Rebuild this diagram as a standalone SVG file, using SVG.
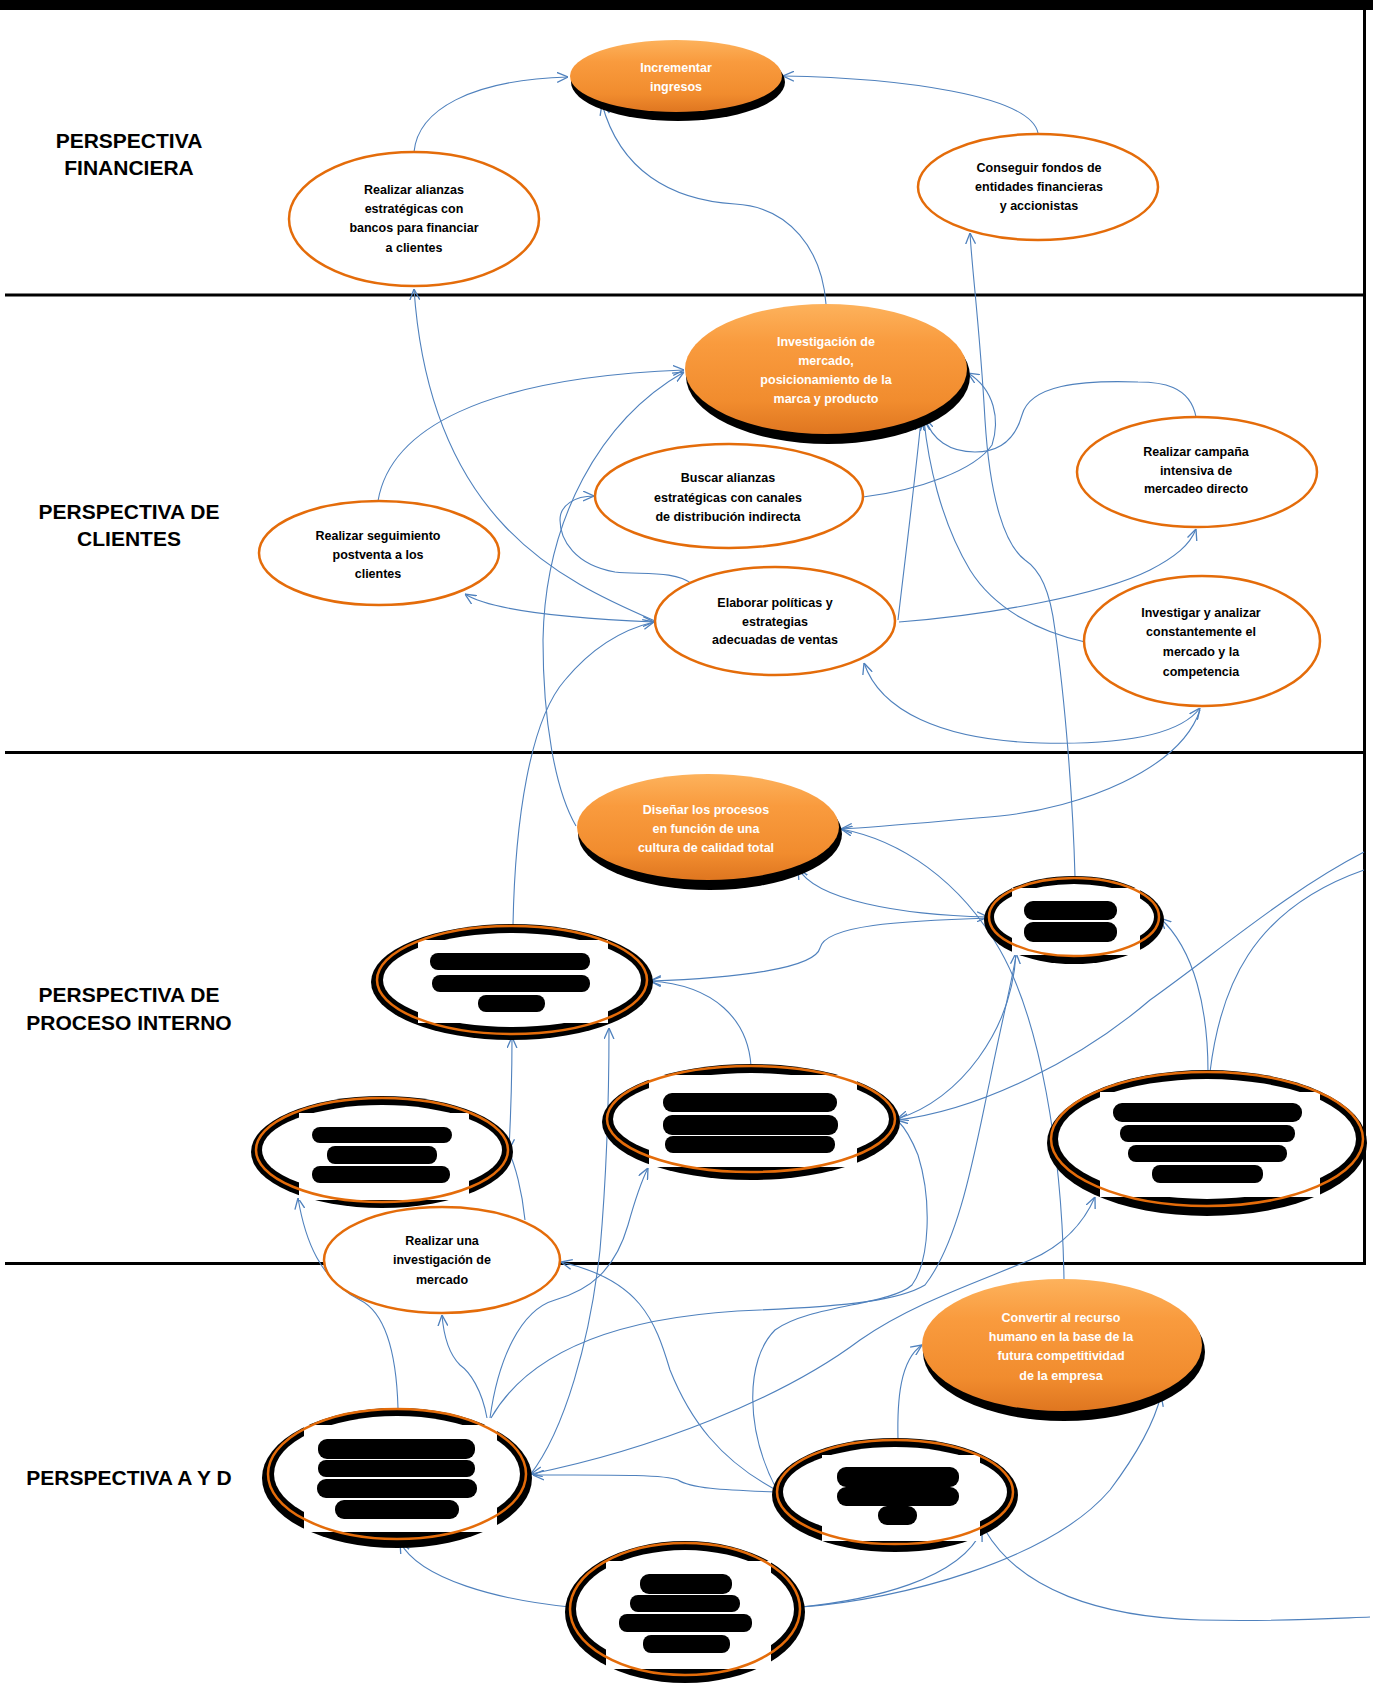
<svg xmlns="http://www.w3.org/2000/svg" width="1373" height="1687" viewBox="0 0 1373 1687">
<defs>
  <style>
    .lab{font-family:"Liberation Sans",Arial,sans-serif;font-weight:bold;font-size:21px;text-anchor:middle;fill:#000}
    .t{font-family:"Liberation Sans",Arial,sans-serif;font-weight:bold;font-size:12.5px;text-anchor:middle;fill:#000}
    .tw{fill:#fff}
    .ring{fill:#fff;stroke:#E46C0A;stroke-width:2.5}
    .oline{fill:none;stroke:#E46C0A;stroke-width:2.5}
    .shadow{fill:#000}
    .white{fill:#fff}
    .blob{fill:#000}
    .conn path{fill:none;stroke:#4F81BD;stroke-width:1.1}
    .rule{fill:#000}
  </style>
  <linearGradient id="og" x1="0" y1="0" x2="0" y2="1">
    <stop offset="0" stop-color="#FDB25C"/>
    <stop offset="0.3" stop-color="#F99B3E"/>
    <stop offset="0.75" stop-color="#F18C2E"/>
    <stop offset="1" stop-color="#DF7620"/>
  </linearGradient>
  <marker id="a" viewBox="0 0 10 10" refX="10" refY="5" markerWidth="11" markerHeight="11" markerUnits="userSpaceOnUse" orient="auto-start-reverse">
    <path d="M0,0.5 L10,5 L0,9.5" fill="none" stroke="#4F81BD" stroke-width="1.2"/>
  </marker>
</defs>

<rect width="1373" height="1687" fill="#fff"/>

<!-- frame and band separators -->
<g id="frame">
  <rect class="rule" x="0" y="0" width="1373" height="10"/>
  <rect class="rule" x="1363" y="0" width="3" height="1265"/>
  <rect class="rule" x="5" y="293.5" width="1361" height="3"/>
  <rect class="rule" x="5" y="751" width="1361" height="3"/>
  <rect class="rule" x="5" y="1262" width="1361" height="3"/>
</g>

<!-- perspective labels -->
<g id="labels">
  <text class="lab" x="129" y="148">PERSPECTIVA</text>
  <text class="lab" x="129" y="175">FINANCIERA</text>
  <text class="lab" x="129" y="519">PERSPECTIVA DE</text>
  <text class="lab" x="129" y="546">CLIENTES</text>
  <text class="lab" x="129" y="1002">PERSPECTIVA DE</text>
  <text class="lab" x="129" y="1030">PROCESO INTERNO</text>
  <text class="lab" x="129" y="1485">PERSPECTIVA A Y D</text>
</g>

<!-- connectors -->
<g id="connectors" class="conn">
  <path marker-end="url(#a)" d="M414,152 C418,110 470,80 568,77"/>
  <path marker-end="url(#a)" d="M1038,133 C1030,95 900,78 783,76"/>
  <path marker-end="url(#a)" d="M826,304 C822,250 790,207 735,204 C670,200 620,170 602,104"/>
  <path marker-end="url(#a)" d="M655,621 C560,580 430,520 414,289"/>
  <path marker-end="url(#a)" d="M1075,877 C1073,800 1065,700 1055,630 C1050,590 1040,570 1025,560 C1005,545 990,500 985,420 C980,330 972,270 970,233"/>
  <path marker-end="url(#a)" d="M378,501 C390,430 480,378 684,370"/>
  <path marker-start="url(#a)" marker-end="url(#a)" d="M465,594 C490,610 560,618 654,622"/>
  <path marker-end="url(#a)" d="M692,584 C675,570 640,575 615,572 C575,565 560,540 560,520 C560,505 575,496 594,496"/>
  <path marker-end="url(#a)" d="M863,497 C920,490 975,470 992,445 C1000,420 995,390 968,373"/>
  <path marker-end="url(#a)" d="M576,826 C555,790 543,720 543,640 C545,520 600,420 684,372"/>
  <path marker-end="url(#a)" d="M1196,417 C1190,385 1160,382 1138,382 C1080,380 1030,385 1022,415 C1015,440 1000,452 975,452 C950,452 932,440 925,418"/>
  <path marker-end="url(#a)" d="M1085,642 C1040,632 995,610 970,570 C940,520 928,460 924,420"/>
  <path marker-end="url(#a)" d="M898,620 C905,560 915,480 921,420"/>
  <path marker-end="url(#a)" d="M899,622 C990,615 1100,595 1150,570 C1175,557 1190,545 1196,529"/>
  <path marker-start="url(#a)" marker-end="url(#a)" d="M864,663 C880,710 940,740 1040,743 C1120,745 1180,735 1200,708"/>
  <path marker-end="url(#a)" d="M1200,710 C1180,770 1080,808 1000,816 C930,822 880,827 841,829"/>
  <path marker-end="url(#a)" d="M1064,1280 C1062,1150 1040,1020 1000,950 C960,880 900,840 841,829"/>
  <path marker-start="url(#a)" marker-end="url(#a)" d="M798,868 C815,900 900,915 988,917"/>
  <path marker-end="url(#a)" d="M990,918 C900,921 825,925 820,948 C815,968 740,978 650,981"/>
  <path marker-end="url(#a)" d="M751,1066 C748,1020 715,985 650,981"/>
  <path marker-start="url(#a)" marker-end="url(#a)" d="M1016,953 C1012,1030 960,1100 897,1119"/>
  <path marker-end="url(#a)" d="M1364,852 C1290,890 1220,950 1150,1000 C1080,1060 980,1110 897,1120"/>
  <path marker-end="url(#a)" d="M1208,1072 C1208,1010 1195,950 1160,918"/>
  <path d="M1210,1072 C1220,990 1250,910 1364,870"/>
  <path marker-end="url(#a)" d="M513,925 C515,820 530,720 565,680 C590,650 620,630 654,622"/>
  <path marker-start="url(#a)" marker-end="url(#a)" d="M509,1150 C511,1110 512,1070 512,1037"/>
  <path d="M525,1220 C522,1190 515,1165 509,1152"/>
  <path marker-end="url(#a)" d="M530,1475 C565,1430 590,1340 600,1250 C607,1170 609,1100 609,1028"/>
  <path marker-end="url(#a)" d="M398,1408 C396,1340 380,1310 360,1300 C320,1280 305,1240 298,1198"/>
  <path marker-end="url(#a)" d="M487,1418 C482,1390 470,1372 460,1365 C450,1355 444,1340 442,1315"/>
  <path marker-end="url(#a)" d="M490,1418 C498,1360 520,1310 555,1300 C590,1290 615,1270 628,1225 C635,1200 642,1180 648,1168"/>
  <path d="M491,1418 C530,1350 620,1315 760,1310 C850,1306 900,1300 925,1285 C960,1240 975,1150 990,1080 C1000,1030 1010,990 1016,956"/>
  <path marker-start="url(#a)" marker-end="url(#a)" d="M531,1474 C650,1450 780,1400 860,1340 C910,1305 970,1285 1030,1260 C1065,1245 1085,1220 1095,1197"/>
  <path d="M777,1490 C745,1430 745,1360 775,1330 C810,1305 890,1305 912,1285 C930,1260 932,1200 918,1155 C912,1140 905,1128 898,1121"/>
  <path marker-end="url(#a)" d="M777,1492 C720,1490 690,1488 678,1480 C665,1474 600,1475 533,1475"/>
  <path marker-end="url(#a)" d="M776,1490 C720,1460 690,1420 670,1370 C655,1320 640,1280 561,1262"/>
  <path marker-end="url(#a)" d="M898,1440 C897,1400 900,1360 922,1345"/>
  <path marker-end="url(#a)" d="M801,1607 C870,1600 960,1580 982,1530"/>
  <path d="M985,1530 C1020,1590 1100,1617 1200,1620 C1280,1622 1340,1618 1370,1617"/>
  <path marker-end="url(#a)" d="M801,1607 C900,1600 1050,1560 1110,1490 C1140,1450 1155,1420 1161,1395"/>
  <path marker-end="url(#a)" d="M570,1607 C500,1600 420,1580 400,1542"/>
</g>

<!-- financial perspective -->
<g id="n-incrementar">
  <ellipse class="shadow" cx="678" cy="82" rx="107" ry="39"/>
  <ellipse cx="676" cy="76" rx="106" ry="36" fill="url(#og)"/>
  <text class="t tw" x="676" y="72">Incrementar</text>
  <text class="t tw" x="676" y="91">ingresos</text>
</g>
<g id="n-alianzas-bancos">
  <ellipse class="ring" cx="414" cy="219" rx="125" ry="67"/>
  <text class="t" x="414" y="194">Realizar  alianzas</text>
  <text class="t" x="414" y="213">estratégicas con</text>
  <text class="t" x="414" y="232">bancos para financiar</text>
  <text class="t" x="414" y="252">a clientes</text>
</g>
<g id="n-fondos">
  <ellipse class="ring" cx="1038" cy="187" rx="120" ry="53"/>
  <text class="t" x="1039" y="172">Conseguir fondos de</text>
  <text class="t" x="1039" y="191">entidades financieras</text>
  <text class="t" x="1039" y="210">y accionistas</text>
</g>

<!-- customer perspective -->
<g id="n-investigacion">
  <ellipse class="shadow" cx="828" cy="376" rx="142" ry="68"/>
  <ellipse cx="826" cy="369" rx="141" ry="65" fill="url(#og)"/>
  <text class="t tw" x="826" y="346">Investigación  de</text>
  <text class="t tw" x="826" y="365">mercado,</text>
  <text class="t tw" x="826" y="384">posicionamiento  de la</text>
  <text class="t tw" x="826" y="403">marca y producto</text>
</g>
<g id="n-canales">
  <ellipse class="ring" cx="729" cy="496" rx="134" ry="52"/>
  <text class="t" x="728" y="482">Buscar  alianzas</text>
  <text class="t" x="728" y="502">estratégicas con canales</text>
  <text class="t" x="728" y="521">de distribución  indirecta</text>
</g>
<g id="n-campana">
  <ellipse class="ring" cx="1197" cy="472" rx="120" ry="55"/>
  <text class="t" x="1196" y="456">Realizar  campaña</text>
  <text class="t" x="1196" y="475">intensiva de</text>
  <text class="t" x="1196" y="493">mercadeo directo</text>
</g>
<g id="n-postventa">
  <ellipse class="ring" cx="379" cy="553" rx="120" ry="52"/>
  <text class="t" x="378" y="540">Realizar  seguimiento</text>
  <text class="t" x="378" y="559">postventa a los</text>
  <text class="t" x="378" y="578">clientes</text>
</g>
<g id="n-ventas">
  <ellipse class="ring" cx="775" cy="621" rx="120" ry="54"/>
  <text class="t" x="775" y="607">Elaborar  políticas y</text>
  <text class="t" x="775" y="626">estrategias</text>
  <text class="t" x="775" y="644">adecuadas  de ventas</text>
</g>
<g id="n-competencia">
  <ellipse class="ring" cx="1202" cy="641" rx="118" ry="65"/>
  <text class="t" x="1201" y="617">Investigar  y analizar</text>
  <text class="t" x="1201" y="636">constantemente el</text>
  <text class="t" x="1201" y="656">mercado y la</text>
  <text class="t" x="1201" y="676">competencia</text>
</g>

<!-- internal process perspective -->
<g id="n-calidad">
  <ellipse class="shadow" cx="710" cy="834" rx="132" ry="56"/>
  <ellipse cx="708" cy="827" rx="131" ry="53" fill="url(#og)"/>
  <text class="t tw" x="706" y="814">Diseñar los procesos</text>
  <text class="t tw" x="706" y="833">en función  de una</text>
  <text class="t tw" x="706" y="852">cultura de calidad  total</text>
</g>
<g id="n-p1">
  <ellipse class="shadow" cx="1074" cy="920" rx="90" ry="44"/>
  <ellipse class="white" cx="1074" cy="917" rx="80" ry="33"/>
  <rect class="white" x="1012" y="888" width="128" height="67"/>
  <ellipse class="oline" cx="1074" cy="917" rx="85" ry="39"/>
  <rect class="blob" x="1024" y="901" width="93" height="19" rx="9"/>
  <rect class="blob" x="1024" y="922" width="93" height="20" rx="9"/>
</g>
<g id="n-p2">
  <ellipse class="shadow" cx="512" cy="982" rx="141" ry="58"/>
  <ellipse class="white" cx="512" cy="980" rx="129" ry="47"/>
  <rect class="white" x="418" y="940" width="190" height="83"/>
  <ellipse class="oline" cx="512" cy="980" rx="135" ry="54"/>
  <rect class="blob" x="430" y="953" width="160" height="17" rx="8"/>
  <rect class="blob" x="432" y="975" width="158" height="17" rx="8"/>
  <rect class="blob" x="478" y="995" width="67" height="17" rx="8"/>
</g>
<g id="n-p3">
  <ellipse class="shadow" cx="751" cy="1122" rx="149" ry="58"/>
  <ellipse class="white" cx="751" cy="1119" rx="138" ry="46"/>
  <rect class="white" x="649" y="1075" width="208" height="92"/>
  <ellipse class="oline" cx="751" cy="1119" rx="144" ry="53"/>
  <rect class="blob" x="663" y="1093" width="174" height="19" rx="9"/>
  <rect class="blob" x="663" y="1115" width="175" height="20" rx="9"/>
  <rect class="blob" x="665" y="1136" width="170" height="17" rx="8"/>
</g>
<g id="n-p4">
  <ellipse class="shadow" cx="382" cy="1152" rx="131" ry="56"/>
  <ellipse class="white" cx="382" cy="1150" rx="120" ry="45"/>
  <rect class="white" x="299" y="1113" width="170" height="87"/>
  <ellipse class="oline" cx="382" cy="1150" rx="126" ry="52"/>
  <rect class="blob" x="312" y="1127" width="140" height="16" rx="8"/>
  <rect class="blob" x="327" y="1146" width="110" height="18" rx="8"/>
  <rect class="blob" x="312" y="1166" width="138" height="17" rx="8"/>
</g>
<g id="n-p5">
  <ellipse class="shadow" cx="1207" cy="1143" rx="160" ry="73"/>
  <ellipse class="white" cx="1207" cy="1139" rx="149" ry="60"/>
  <rect class="white" x="1100" y="1092" width="220" height="105"/>
  <ellipse class="oline" cx="1207" cy="1139" rx="156" ry="67"/>
  <rect class="blob" x="1113" y="1103" width="189" height="19" rx="9"/>
  <rect class="blob" x="1120" y="1125" width="175" height="17" rx="8"/>
  <rect class="blob" x="1128" y="1145" width="159" height="17" rx="8"/>
  <rect class="blob" x="1152" y="1165" width="111" height="18" rx="8"/>
</g>
<g id="n-estudio">
  <ellipse class="ring" cx="442" cy="1260" rx="118" ry="53"/>
  <text class="t" x="442" y="1245">Realizar  una</text>
  <text class="t" x="442" y="1264">investigación  de</text>
  <text class="t" x="442" y="1284">mercado</text>
</g>

<!-- learning and growth perspective -->
<g id="n-talento">
  <ellipse class="shadow" cx="1064" cy="1352" rx="141" ry="69"/>
  <ellipse cx="1062" cy="1345" rx="140" ry="66" fill="url(#og)"/>
  <text class="t tw" x="1061" y="1322">Convertir al recurso</text>
  <text class="t tw" x="1061" y="1341">humano en la base de la</text>
  <text class="t tw" x="1061" y="1360">futura competitividad</text>
  <text class="t tw" x="1061" y="1380">de la empresa</text>
</g>
<g id="n-a1">
  <ellipse class="shadow" cx="397" cy="1478" rx="135" ry="70"/>
  <ellipse class="white" cx="397" cy="1474" rx="123" ry="58"/>
  <rect class="white" x="304" y="1425" width="193" height="107"/>
  <ellipse class="oline" cx="397" cy="1474" rx="129" ry="65"/>
  <rect class="blob" x="318" y="1439" width="157" height="20" rx="9"/>
  <rect class="blob" x="318" y="1460" width="157" height="17" rx="8"/>
  <rect class="blob" x="317" y="1479" width="160" height="19" rx="9"/>
  <rect class="blob" x="335" y="1500" width="124" height="19" rx="9"/>
</g>
<g id="n-a2">
  <ellipse class="shadow" cx="895" cy="1495" rx="123" ry="57"/>
  <ellipse class="white" cx="895" cy="1492" rx="112" ry="45"/>
  <rect class="white" x="822" y="1455" width="158" height="86"/>
  <ellipse class="oline" cx="895" cy="1492" rx="118" ry="52"/>
  <rect class="blob" x="837" y="1467" width="122" height="20" rx="9"/>
  <rect class="blob" x="837" y="1487" width="122" height="19" rx="9"/>
  <rect class="blob" x="878" y="1506" width="39" height="19" rx="9"/>
</g>
<g id="n-a3">
  <ellipse class="shadow" cx="685" cy="1612" rx="120" ry="71"/>
  <ellipse class="white" cx="685" cy="1609" rx="109" ry="59"/>
  <rect class="white" x="606" y="1561" width="165" height="108"/>
  <ellipse class="oline" cx="685" cy="1609" rx="115" ry="66"/>
  <rect class="blob" x="640" y="1574" width="92" height="20" rx="9"/>
  <rect class="blob" x="630" y="1595" width="110" height="17" rx="8"/>
  <rect class="blob" x="619" y="1614" width="133" height="18" rx="8"/>
  <rect class="blob" x="643" y="1635" width="87" height="18" rx="8"/>
</g>
</svg>
